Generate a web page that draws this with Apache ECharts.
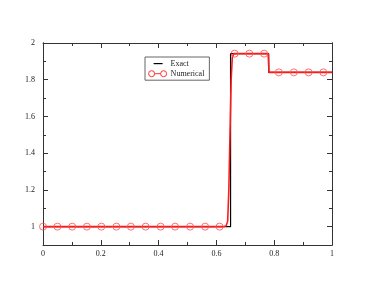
<!DOCTYPE html>
<html><head><meta charset="utf-8">
<script src="https://cdn.jsdelivr.net/npm/echarts@6/dist/echarts.min.js"></script>
<style>html,body{margin:0;padding:0;background:#fff}#c{width:374px;height:289px}</style>
</head><body><div id="c"></div>
<script>
// Exact solution (step profile)
const exactX = [0, 0.649, 0.649, 0.781, 0.781, 1];
const exactY = [1, 1, 1.942, 1.942, 1.84, 1.84];
// Numerical solution (fine line)
const numLineX = [0, 0.625, 0.634, 0.639, 0.643, 0.647, 0.651, 0.655, 0.66, 0.779, 0.782, 1];
const numLineY = [1, 1, 1.005, 1.03, 1.2, 1.5, 1.8, 1.92, 1.942, 1.942, 1.84, 1.84];
// Numerical solution markers
const numMarkX = [0, 0.050, 0.101, 0.152, 0.202, 0.254, 0.304, 0.355, 0.407, 0.457, 0.509, 0.561, 0.611, 0.663, 0.714, 0.765, 0.816, 0.868, 0.919, 0.970];
const numMarkY = [1, 1, 1, 1, 1, 1, 1, 1, 1, 1, 1, 1, 1, 1.942, 1.942, 1.942, 1.84, 1.84, 1.84, 1.84];
// Tick values
const xTicks = [0, 0.2, 0.4, 0.6, 0.8, 1];
const yMajor = [1, 1.2, 1.4, 1.6, 1.8, 2];
const yMinor = [1.1, 1.3, 1.5, 1.7, 1.9];

const zip = (a, b) => a.map((v, i) => [v, b[i]]);
const AX = '#333';
const FONT = 'Liberation Serif';
const lab = {fontFamily: FONT, fontSize: 8, color: '#222'};

function yAx(pos, vals, len, labels) {
  return {
    type: 'value', position: pos, min: 0.9, max: 2,
    axisLine: {show: true, lineStyle: {color: AX, width: 1}},
    axisTick: {show: true, inside: true, length: len, customValues: vals, lineStyle: {color: AX}},
    axisLabel: labels ? Object.assign({show: true, customValues: vals, margin: 8, formatter: v => String(+v.toFixed(1))}, lab) : {show: false},
    splitLine: {show: false}
  };
}
function xAx(pos, labels) {
  return {
    type: 'value', position: pos, min: 0, max: 1, interval: 0.2,
    axisLine: {show: true, onZero: false, lineStyle: {color: AX, width: 1}},
    axisTick: {show: true, inside: true, length: 5, lineStyle: {color: AX}},
    minorTick: {show: true, splitNumber: 2, length: 3, lineStyle: {color: AX}},
    axisLabel: labels ? Object.assign({show: true, margin: 5, formatter: v => String(+v.toFixed(1))}, lab) : {show: false},
    splitLine: {show: false}, minorSplitLine: {show: false}
  };
}

const chart = echarts.init(document.getElementById('c'), null, {renderer: 'canvas'});
chart.setOption({
  animation: false,
  backgroundColor: '#fff',
  grid: {left: 43, right: 42, top: 43, bottom: 44, containLabel: false},
  xAxis: [xAx('bottom', true), xAx('top', false)],
  yAxis: [yAx('left', yMajor, 5, true), yAx('left', yMinor, 3, false), yAx('right', yMajor, 5, false), yAx('right', yMinor, 3, false)],
  legend: {
    left: 145, top: 57, orient: 'vertical', itemGap: 1,
    itemWidth: 20, itemHeight: 8,
    padding: [2, 5, 2, 2],
    borderColor: '#666', borderWidth: 1, backgroundColor: '#fff',
    textStyle: {fontFamily: FONT, fontSize: 8, color: '#222', padding: [0, 0, 0, -2]},
    data: [
      {name: 'Exact', icon: 'path://M0,0M20,8M6,4L15,4', itemStyle: {color: 'transparent', borderColor: '#000', borderWidth: 1.2}},
      {name: 'Numerical', icon: 'path://M0,0M20,8M1,4a3,3 0 1,0 6,0a3,3 0 1,0 -6,0M7,4L13,4M13,4a3,3 0 1,0 6,0a3,3 0 1,0 -6,0', itemStyle: {color: 'transparent', borderColor: '#ff3030', borderWidth: 1}}
    ]
  },
  series: [
    {name: 'Exact', type: 'line', data: zip(exactX, exactY), showSymbol: false, symbol: 'none',
     lineStyle: {color: '#000', width: 1.2}, itemStyle: {color: '#000'}, z: 2},
    {name: 'Numerical', type: 'line', data: zip(numLineX, numLineY), showSymbol: false, symbol: 'none',
     lineStyle: {color: '#ff1a1a', width: 1.6}, itemStyle: {color: '#ff1a1a'}, z: 3},
    {name: 'Numerical', type: 'scatter', data: zip(numMarkX, numMarkY), symbol: 'circle', symbolSize: 7,
     itemStyle: {color: 'transparent', borderColor: '#ff4d4d', borderWidth: 1}, z: 4}
  ]
});
</script></body></html>
